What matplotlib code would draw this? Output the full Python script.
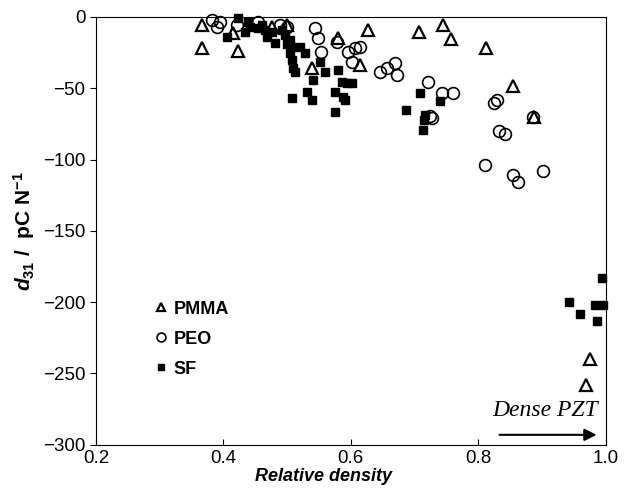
import numpy as np
import matplotlib
matplotlib.use("Agg")
import matplotlib.pyplot as plt

plt.rcParams['font.family'] = ['Liberation Sans', 'DejaVu Sans']
plt.rcParams['mathtext.fontset'] = 'custom'
plt.rcParams['mathtext.rm'] = 'Liberation Sans:bold'
plt.rcParams['mathtext.it'] = 'Liberation Sans:italic:bold'

# PMMA (open triangles)
pmma_x = [0.366, 0.366, 0.423, 0.415, 0.476, 0.500, 0.580, 0.539, 0.614, 0.627,
          0.707, 0.744, 0.757, 0.812, 0.854, 0.887, 0.975, 0.969]
pmma_y = [-5.6, -21.7, -23.8, -11.2, -7.0, -5.6, -14.7, -35.7, -33.6, -9.1,
          -10.5, -5.6, -15.4, -21.7, -48.4, -70.1, -240, -258]

# PEO (open circles)
peo_x = [0.382, 0.395, 0.390, 0.421, 0.454, 0.489, 0.500, 0.544, 0.548, 0.553,
         0.578, 0.595, 0.606, 0.614, 0.602, 0.645, 0.656, 0.669, 0.672, 0.721,
         0.743, 0.760, 0.824, 0.829, 0.725, 0.728, 0.886, 0.832, 0.842, 0.810,
         0.854, 0.862, 0.901]
peo_y = [-2.0, -3.5, -7.0, -5.6, -3.5, -5.6, -7.0, -7.7, -14.7, -24.5,
         -17.5, -24.5, -21.7, -21.0, -31.5, -38.5, -35.7, -32.2, -40.7, -45.6,
         -53.3, -53.3, -60.3, -58.2, -69.4, -71.0, -70.1, -79.9, -82.0, -103.7,
         -110.7, -115.7, -107.9]

# SF (filled squares)
sf_x = [0.423, 0.405, 0.438, 0.442, 0.434, 0.460, 0.465, 0.468, 0.481, 0.504,
        0.507, 0.504, 0.520, 0.528, 0.509, 0.507, 0.540, 0.531, 0.539, 0.551,
        0.559, 0.580, 0.586, 0.594, 0.602, 0.575, 0.587, 0.591, 0.575, 0.686,
        0.708, 0.740, 0.716, 0.715, 0.713, 0.454, 0.492, 0.496, 0.476, 0.507,
        0.512, 0.500, 0.994, 0.942, 0.983, 0.995, 0.959, 0.987]
sf_y = [-1.0, -14.0, -3.5, -7.0, -10.5, -5.6, -9.1, -14.0, -18.2, -16.1,
        -21.0, -25.2, -21.0, -25.2, -35.7, -56.8, -44.2, -52.6, -58.2, -31.5,
        -38.5, -37.1, -45.6, -46.3, -46.3, -52.6, -56.1, -58.2, -66.6, -65.2,
        -53.3, -58.9, -68.7, -72.2, -79.2, -7.7, -9.1, -12.6, -10.5, -30.0,
        -38.5, -19.0, -183, -200, -202, -202, -208, -213]

fig = plt.figure(figsize=(6.31, 4.97), dpi=100)
ax = fig.add_axes([0.152, 0.105, 0.808, 0.861])

ax.plot(pmma_x, pmma_y, '^', ms=8, mfc='none', mec='black', mew=1.6,
        label='PMMA', clip_on=False)
ax.plot(peo_x, peo_y, 'o', ms=8.5, mfc='none', mec='black', mew=1.2,
        label='PEO', clip_on=False)
ax.plot(sf_x, sf_y, 's', ms=6, mfc='black', mec='black',
        label='SF', clip_on=False)

ax.set_xlim(0.2, 1.0)
ax.set_ylim(-300, 0)
ax.set_xticks([0.2, 0.4, 0.6, 0.8, 1.0])
ax.set_yticks([0, -50, -100, -150, -200, -250, -300])
ax.tick_params(axis='x', direction='in', labelsize=13.5, length=4)
ax.tick_params(axis='y', direction='out', labelsize=13.5, length=4)
ax.xaxis.set_major_formatter(matplotlib.ticker.FormatStrFormatter('%.1f'))

ax.set_xlabel('Relative density', fontsize=13, fontweight='bold',
              fontstyle='italic')
ax.xaxis.set_label_coords(0.447, -0.055)
ax.set_ylabel(r'$d_{\mathit{31}}$ /  pC N$^{-1}$', fontsize=15,
              fontweight='bold', labelpad=4)

leg = ax.legend(loc='upper left', bbox_to_anchor=(0.075, 0.375), frameon=False,
                prop={'weight': 'bold', 'size': 13}, handletextpad=0.1,
                handlelength=1.2, labelspacing=0.72, markerscale=0.75)

ax.text(0.904, -276, 'Dense PZT', fontsize=17, fontstyle='italic',
        family='Liberation Serif', ha='center', va='center')
ax.annotate('', xy=(0.99, -293), xytext=(0.829, -293),
            arrowprops=dict(arrowstyle='-|>', color='black', lw=1.5,
                            mutation_scale=18))

fig.savefig('out.png', dpi=100)
